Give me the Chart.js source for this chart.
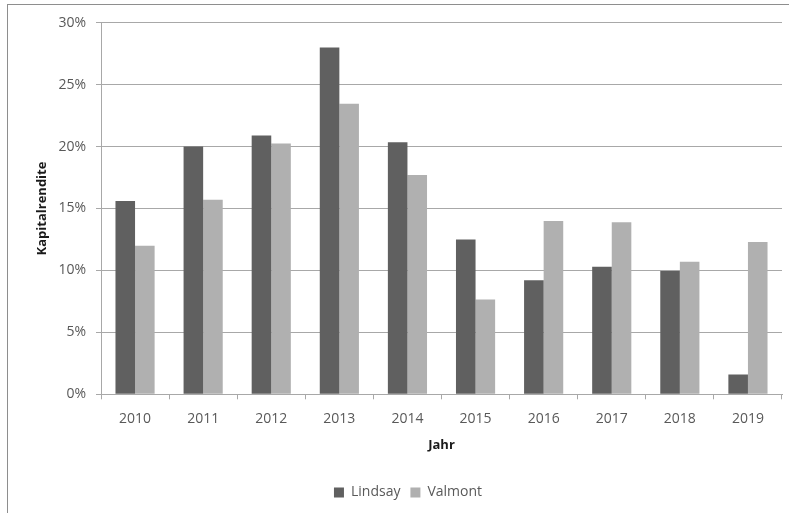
<!DOCTYPE html>
<html lang="de">
<head>
<meta charset="utf-8">
<script src="https://cdn.jsdelivr.net/npm/chart.js@4/dist/chart.umd.min.js"></script>
<style>
  html, body { margin: 0; padding: 0; background: #ffffff; }
  #wrap { position: relative; width: 789px; height: 513px; overflow: hidden; }
  #frame { position: absolute; left: 7px; top: 4px; width: 800px; height: 520px;
           border-left: 1px solid #8e8e8e; border-top: 1px solid #8e8e8e; box-sizing: border-box; }
  #chart { position: absolute; left: 0; top: 0; }
</style>
</head>
<body>
<div id="wrap">
  <div id="frame"></div>
  <canvas id="chart" width="789" height="513"></canvas>
</div>
<script>
// Jährliche Kapitalrendite zweier Unternehmen
const years = ['2010', '2011', '2012', '2013', '2014', '2015', '2016', '2017', '2018', '2019'];
const lindsay = [15.6, 20.0, 20.9, 28.0, 20.35, 12.5, 9.2, 10.3, 9.95, 1.6];
const valmont = [12.0, 15.7, 20.25, 23.45, 17.7, 7.65, 14.0, 13.9, 10.7, 12.3];
const yTicks = [0, 5, 10, 15, 20, 25, 30];

const gridGray = '#a8a8a8';
const tickFont = { family: 'Open Sans', size: 14 };
const titleFont = { family: 'Open Sans', size: 13, weight: 'bold' };

new Chart(document.getElementById('chart'), {
  type: 'bar',
  data: {
    labels: years,
    datasets: [
      { label: 'Lindsay', data: lindsay, backgroundColor: '#606060', borderWidth: 0 },
      { label: 'Valmont', data: valmont, backgroundColor: '#b0b0b0', borderWidth: 0 }
    ]
  },
  options: {
    responsive: false,
    animation: false,
    devicePixelRatio: 1,
    layout: { padding: { left: 34, top: 22.7, right: 7, bottom: 3.5 } },
    datasets: { bar: { categoryPercentage: 0.575, barPercentage: 1 } },
    plugins: {
      legend: {
        position: 'bottom',
        labels: {
          font: { family: 'Open Sans', size: 14 },
          color: '#595959',
          boxWidth: 10,
          boxHeight: 10,
          padding: 10
        }
      },
      tooltip: { enabled: false }
    },
    scales: {
      x: {
        offset: true,
        grid: { display: true, drawOnChartArea: false, drawTicks: true, tickLength: 5, color: gridGray, offset: true },
        border: { display: true, color: gridGray },
        ticks: { font: tickFont, color: '#595959', padding: 11, maxRotation: 0 },
        title: { display: true, text: 'Jahr', font: titleFont, color: '#1a1a1a', padding: { top: 0, bottom: 22.7 } },
        afterFit: s => { s.height = 81.2; }
      },
      y: {
        min: 0,
        max: 30,
        afterBuildTicks: s => { s.ticks = yTicks.map(v => ({ value: v })); },
        grid: { color: gridGray, tickLength: 5, drawTicks: true },
        border: { display: true, color: gridGray },
        ticks: { font: tickFont, color: '#595959', padding: 10, callback: v => v + '%' },
        title: { display: true, text: 'Kapitalrendite', font: titleFont, color: '#1a1a1a', padding: { top: 0, bottom: 0 } },
        afterFit: s => { s.width = 67; }
      }
    }
  }
});
</script>
</body>
</html>
